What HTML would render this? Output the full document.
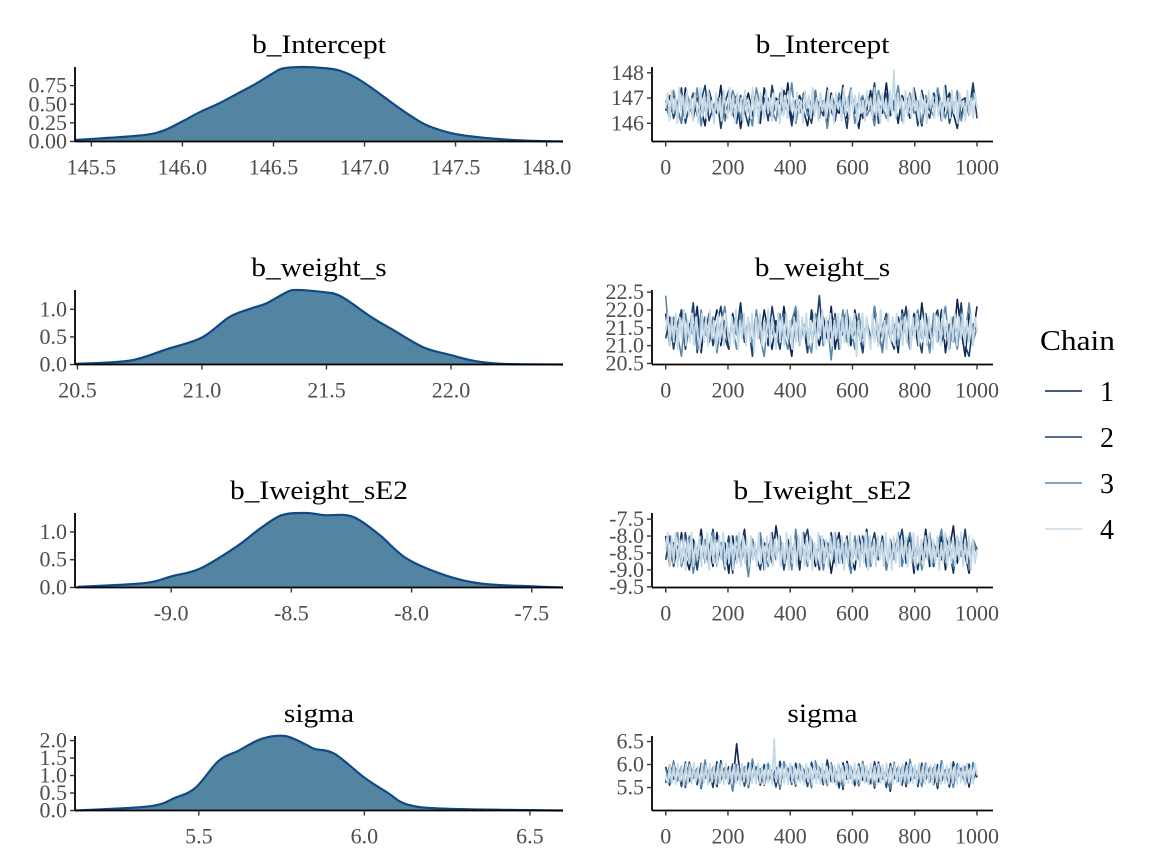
<!DOCTYPE html>
<html><head><meta charset="utf-8"><style>
html,body{margin:0;padding:0;background:#fff;}
svg{display:block;font-family:"Liberation Serif",serif;}
</style></head><body>
<svg id="chart" width="1152" height="864" viewBox="0 0 1152 864" xmlns="http://www.w3.org/2000/svg"></svg>
<script>
// ---- data ----
const paramNames = ["b_Intercept","b_weight_s","b_Iweight_sE2","sigma"];
const dens1X = [145.41,145.6,145.8,145.9,146.0,146.1,146.2,146.3,146.4,146.5,146.55,146.65,146.75,146.85,146.95,147.05,147.15,147.25,147.35,147.5,147.7,147.9,148.09];
const dens1Y = [0.02,0.05,0.09,0.15,0.27,0.40,0.51,0.64,0.77,0.92,0.98,1.0,0.99,0.96,0.86,0.70,0.52,0.35,0.21,0.10,0.04,0.01,0.0];
const dens2X = [20.49,20.71,20.86,21.0,21.11,21.2,21.26,21.34,21.38,21.49,21.56,21.68,21.77,21.89,22.0,22.1,22.22,22.45];
const dens2Y = [0.01,0.07,0.28,0.49,0.86,1.02,1.11,1.31,1.35,1.31,1.23,0.86,0.62,0.31,0.17,0.06,0.01,0.0];
const dens3X = [-9.39,-9.11,-9.0,-8.88,-8.73,-8.63,-8.54,-8.44,-8.36,-8.25,-8.14,-8.02,-7.86,-7.71,-7.5,-7.37];
const dens3Y = [0.01,0.08,0.2,0.34,0.73,1.06,1.30,1.34,1.30,1.28,0.97,0.52,0.22,0.07,0.02,0.0];
const dens4X = [5.126,5.35,5.43,5.49,5.56,5.62,5.69,5.76,5.82,5.85,5.91,6.0,6.07,6.13,6.25,6.6];
const dens4Y = [0.0,0.12,0.37,0.65,1.42,1.71,2.05,2.13,1.9,1.76,1.62,0.94,0.51,0.17,0.05,0.0];

const densXTicks = [[145.5,146.0,146.5,147.0,147.5,148.0],[20.5,21.0,21.5,22.0],[-9.0,-8.5,-8.0,-7.5],[5.5,6.0,6.5]];
const densXLabels = [["145.5","146.0","146.5","147.0","147.5","148.0"],["20.5","21.0","21.5","22.0"],["-9.0","-8.5","-8.0","-7.5"],["5.5","6.0","6.5"]];
const densXRange = [[145.41,148.09],[20.49,22.45],[-9.40,-7.37],[5.126,6.6]];
const densYTicks = [[0,0.25,0.5,0.75],[0,0.5,1.0],[0,0.5,1.0],[0,0.5,1.0,1.5,2.0]];
const densYLabels = [["0.00","0.25","0.50","0.75"],["0.0","0.5","1.0"],["0.0","0.5","1.0"],["0.0","0.5","1.0","1.5","2.0"]];

const traceXTicks = [0,200,400,600,800,1000];
const traceYTicks = [[146,147,148],[20.5,21.0,21.5,22.0,22.5],[-9.5,-9.0,-8.5,-8.0,-7.5],[5.5,6.0,6.5]];
const traceYLabels = [["146","147","148"],["20.5","21.0","21.5","22.0","22.5"],["-9.5","-9.0","-8.5","-8.0","-7.5"],["5.5","6.0","6.5"]];
const traceYRange = [[145.28,148.23],[20.47,22.56],[-9.52,-7.32],[5.0,6.62]];

const int1 = [146.9,146.3,147.2,146.5,146.0,147.4,146.8,146.2,147.0,146.6,145.9,147.3,146.7,146.4,147.5,146.1,146.9,146.5,147.1,145.8,146.7,147.2,146.3,146.9,146.0,147.4,146.6,146.2,147.0,146.8,146.4,147.6,146.1,146.7,147.1,146.5,145.9,146.9,147.3,146.3,146.8,146.0,147.2,146.6,146.4,147.5,146.2,146.9,146.7,145.8,147.0,146.5,147.3,146.1,146.8,146.4,147.6,146.3,146.9,146.0,147.1,146.7,146.2,147.4,146.6,145.9,147.0,146.5,146.8,147.3,146.1,146.7,147.2,146.4,145.8,146.9,147.0,146.3,147.5,146.6];
const int2 = [146.5,147.1,146.2,146.8,147.4,146.0,146.7,147.2,146.3,146.9,147.5,146.1,146.6,147.0,145.8,146.8,147.3,146.4,146.0,147.1,146.5,145.9,147.2,146.7,146.3,147.0,146.1,147.5,146.6,146.2,147.3,146.8,145.9,146.9,146.4,147.2,146.6,146.0,147.1,146.7,146.3,147.4,146.5,146.1,147.0,146.8,145.8,147.3,146.4,146.9,146.2,147.1,146.6,147.6,146.0,146.7,147.2,146.3,146.8,147.4,146.1,146.9,146.5,147.0,145.9,147.3,146.6,146.2,147.2,146.8,146.4,147.5,146.0,146.7,147.1,146.3,146.9,146.5,147.6,146.2];
const int3 = [146.7,146.2,147.3,146.6,146.0,147.1,146.8,146.4,147.4,145.9,146.9,147.2,146.3,146.7,147.0,146.1,146.5,147.3,146.8,146.2,147.1,146.6,145.9,147.4,146.7,146.3,147.0,146.5,146.1,147.2,146.9,146.4,147.6,146.0,146.8,147.1,146.3,146.6,147.3,146.2,146.9,145.8,147.0,146.5,147.2,146.4,146.7,147.4,146.0,146.8,147.1,146.3,146.6,145.9,147.3,146.7,146.2,147.0,146.5,147.5,146.1,146.8,147.2,146.4,146.9,146.0,147.1,146.6,146.3,147.4,146.7,146.2,147.0,146.5,147.3,146.1,146.8,146.4,147.1,146.6];
const int4 = [146.6,147.2,146.1,147.3,146.4,147.0,146.0,147.4,146.5,147.1,146.2,147.3,146.3,147.0,146.1,147.2,146.6,146.0,147.4,146.3,147.1,146.2,147.3,146.5,146.9,146.0,147.2,146.4,147.0,146.1,147.3,146.6,146.2,147.4,146.3,147.1,146.0,147.2,146.5,147.0,146.1,147.3,146.4,146.9,146.2,147.4,146.3,147.1,146.0,147.2,146.6,146.2,147.3,146.4,147.0,146.1,147.2,146.5,146.9,146.0,147.4,146.3,147.1,146.2,147.3,146.5,147.0,146.1,147.2,146.4,146.9,146.0,147.3,146.6,147.1,146.2,147.4,146.3,147.0,146.1,147.2,146.5,146.9,146.2,147.3,146.4,147.1,146.0,147.2,146.6,146.9,146.1,147.4,146.3,147.0,146.2,147.3,146.5,147.1,146.0,147.2,146.4,146.9,146.1,147.3,146.6,147.0,146.2,147.4,146.3,147.1,146.0,147.2,146.5,146.9,146.1,147.3,146.4,148.1,146.2,147.2,146.6,147.0,146.0,147.3,146.3,147.1,146.2,147.4,146.5,146.9,146.1,147.2,146.4,147.0,146.0,147.3,146.6,147.1,146.2,147.2,146.3,146.9,146.1,147.4,146.5,147.0,146.2,147.3,146.4,147.1,146.0,147.2,146.6,146.9,146.1,147.3,146.3,147.0,146.2,147.2,146.6];
const ws1 = [21.9,21.0,21.7,21.2,22.0,20.9,21.6,21.3,22.1,20.8,21.8,21.1,21.5,22.0,21.0,21.7,20.9,21.9,21.3,22.2,21.1,21.6,20.8,21.8,21.2,22.0,21.4,20.9,21.7,21.1,22.1,21.3,20.7,21.9,21.2,21.6,20.9,22.0,21.4,21.0,21.8,21.2,22.1,20.9,21.6,21.3,21.9,21.0,22.0,21.4,20.8,21.7,21.1,22.1,21.3,20.9,21.8,21.2,21.6,20.8,22.0,21.4,21.1,21.9,21.0,22.2,21.3,20.9,21.7,21.2,22.0,20.8,21.6,21.1,22.3,21.4,20.7,21.9,21.3,22.1];
const ws2 = [21.2,21.8,20.9,21.6,22.0,21.1,21.4,22.2,20.8,21.7,21.3,21.9,21.0,21.6,22.1,21.2,20.9,21.8,21.4,22.0,21.1,21.6,20.7,21.9,21.3,21.7,21.0,22.1,21.4,20.9,21.8,21.2,21.6,22.0,21.1,21.5,20.8,21.9,21.3,22.4,21.0,21.7,21.2,21.9,20.9,21.6,22.0,21.1,21.4,21.8,20.8,21.7,21.2,22.0,21.0,21.5,21.9,21.2,20.9,21.8,21.4,22.1,21.0,21.6,21.3,20.8,21.9,21.2,21.7,22.0,21.1,21.5,20.9,21.8,21.3,22.2,21.0,20.7,21.6,21.4];
const ws3 = [22.4,21.0,21.8,21.3,20.7,21.9,21.2,21.6,20.9,22.0,21.4,21.1,21.8,20.8,21.6,22.1,21.2,21.5,20.9,21.9,21.3,21.7,21.0,22.0,21.2,20.7,21.8,21.4,21.1,21.9,21.3,20.9,21.7,22.1,21.0,21.6,21.2,20.8,21.9,21.4,21.1,21.7,20.6,21.8,21.3,22.0,21.1,21.5,20.9,21.9,21.2,21.6,21.0,22.1,21.4,20.8,21.8,21.2,21.6,21.0,21.9,21.3,20.9,21.7,22.0,21.2,21.5,20.8,21.9,21.1,21.6,22.1,21.0,21.4,20.9,21.8,21.3,22.2,21.1,21.5];
const ws4 = [21.4,21.9,21.0,21.8,21.1,21.9,20.9,21.8,21.2,22.0,21.0,21.7,21.1,21.9,21.0,21.8,21.3,20.9,21.9,21.1,21.8,21.0,22.0,21.2,21.7,20.9,21.9,21.1,21.8,21.0,21.9,21.3,21.0,21.8,21.1,22.0,20.9,21.7,21.2,21.9,21.0,21.8,21.1,21.9,20.8,21.8,21.2,21.9,21.0,21.7,21.1,22.0,21.0,21.8,21.3,20.9,21.9,21.1,21.8,21.0,21.9,21.2,21.7,20.9,21.8,21.1,22.0,21.0,21.8,21.2,21.9,21.0,21.7,21.1,21.9,20.9,21.8,21.3,22.0,21.0,21.8,21.1,21.9,21.0,21.7,21.2,21.9,20.9,21.8,21.1,22.0,21.0,21.8,21.2,21.9,20.7,21.7,21.1,21.9,21.0,21.8,21.3,20.9,21.9,21.1,21.8,21.0,22.0,21.2,21.7,20.9,21.9,21.1,21.8,21.0,21.9,21.2,21.7,21.0,21.8,21.1,22.0,20.9,21.8,21.2,21.9,21.0,21.7,21.1,21.9,21.0,21.8,21.3,20.9,21.9,21.1,21.8,21.0,22.0,21.2,21.7,20.9,21.8,21.1,21.9,21.0,21.8,21.2,21.9,21.0,21.7,21.1,21.9,21.0,21.8,21.4];
const iw1 = [-8.0,-8.9,-8.2,-8.7,-7.9,-8.6,-9.0,-8.1,-8.5,-7.8,-8.8,-8.3,-8.9,-7.9,-8.6,-8.2,-9.1,-8.0,-8.7,-8.4,-7.8,-8.9,-8.1,-8.6,-8.0,-9.0,-8.3,-8.8,-7.7,-8.5,-8.9,-8.1,-8.7,-8.2,-9.0,-7.9,-8.6,-8.3,-8.9,-8.0,-8.7,-8.2,-9.1,-8.4,-7.9,-8.8,-8.1,-8.6,-9.0,-8.0,-8.5,-7.8,-8.9,-8.3,-8.7,-8.0,-9.0,-8.2,-8.6,-7.9,-8.8,-8.4,-8.0,-9.1,-8.3,-8.7,-7.8,-8.9,-8.2,-8.6,-8.0,-9.0,-8.4,-7.7,-8.8,-8.1,-8.6,-9.1,-8.2,-8.5];
const iw2 = [-8.7,-8.0,-8.9,-8.3,-8.6,-7.9,-8.8,-8.2,-9.0,-8.1,-8.6,-8.4,-7.8,-8.9,-8.2,-8.7,-8.0,-9.1,-8.3,-8.5,-7.9,-8.8,-8.1,-8.6,-9.0,-8.2,-8.4,-7.9,-8.7,-8.1,-9.0,-8.3,-8.6,-8.0,-8.9,-8.2,-7.8,-8.7,-8.4,-9.0,-8.1,-8.6,-7.9,-8.8,-8.3,-8.5,-8.0,-9.1,-8.2,-8.7,-8.0,-8.9,-8.4,-7.9,-8.6,-8.2,-9.0,-8.1,-8.7,-8.3,-7.8,-8.8,-8.1,-8.5,-9.0,-8.2,-8.6,-7.9,-8.9,-8.3,-8.7,-8.0,-8.4,-9.1,-8.2,-8.6,-7.8,-8.9,-8.1,-8.4];
const iw3 = [-8.1,-8.8,-8.3,-7.9,-8.9,-8.5,-8.0,-9.1,-8.4,-8.7,-8.1,-8.9,-7.9,-8.6,-8.3,-9.0,-8.2,-8.6,-8.0,-8.8,-8.4,-9.2,-8.1,-8.7,-7.9,-8.5,-8.9,-8.2,-8.6,-8.0,-8.8,-8.3,-9.0,-7.8,-8.6,-8.4,-8.9,-8.1,-8.7,-8.0,-9.0,-8.3,-8.5,-7.9,-8.8,-8.2,-8.6,-9.1,-8.0,-8.7,-8.4,-7.9,-8.9,-8.2,-8.6,-8.1,-9.0,-8.4,-8.7,-8.0,-8.9,-8.3,-7.9,-8.6,-8.2,-9.0,-8.5,-8.1,-8.8,-8.3,-7.8,-8.7,-8.2,-8.9,-8.0,-8.6,-8.4,-9.0,-8.1,-8.5];
const iw4 = [-8.4,-7.9,-8.9,-8.0,-8.8,-7.9,-8.9,-8.1,-8.8,-8.0,-9.0,-8.1,-8.8,-7.9,-8.9,-8.2,-8.7,-8.0,-8.9,-8.1,-8.8,-7.9,-9.0,-8.0,-8.8,-8.1,-8.9,-8.0,-8.7,-7.9,-8.9,-8.2,-8.8,-8.0,-9.0,-8.1,-8.8,-7.9,-8.9,-8.0,-8.8,-8.1,-8.9,-8.0,-8.7,-8.2,-8.9,-7.9,-8.8,-8.1,-9.0,-8.0,-8.8,-7.9,-8.9,-8.1,-8.7,-8.0,-8.9,-8.2,-8.8,-7.9,-9.0,-8.0,-8.8,-8.1,-8.9,-8.0,-8.7,-7.9,-8.9,-8.1,-8.8,-8.0,-9.0,-8.2,-8.8,-7.9,-8.9,-8.0,-8.8,-8.1,-8.9,-8.0,-8.7,-7.9,-8.9,-8.1,-8.8,-8.0,-9.0,-8.1,-8.8,-7.9,-8.9,-8.2,-8.7,-8.0,-8.9,-8.1,-8.8,-7.9,-9.0,-8.0,-8.8,-8.1,-8.9,-8.0,-8.7,-8.2,-8.9,-7.9,-8.8,-8.1,-9.0,-8.0,-8.8,-7.9,-8.9,-8.1,-8.7,-8.0,-8.9,-8.2,-8.8,-7.9,-9.0,-8.0,-8.8,-8.1,-8.9,-8.0,-8.7,-7.9,-8.9,-8.1,-8.8,-8.0,-9.0,-8.2,-8.8,-7.9,-8.9,-8.0,-8.8,-8.1,-8.9,-8.0,-8.7,-7.9,-8.9,-8.1,-8.8,-8.0,-9.0,-8.1,-8.8,-8.4];
const sg1 = [5.95,5.55,6.02,5.65,5.88,5.50,6.05,5.70,5.92,5.48,6.00,5.62,5.85,5.52,6.08,5.68,5.95,5.58,6.45,5.66,5.90,5.50,6.03,5.72,5.86,5.55,6.00,5.63,5.94,5.47,6.06,5.70,5.88,5.53,6.01,5.66,5.92,5.50,6.04,5.69,5.86,5.56,6.00,5.62,5.95,5.46,6.07,5.71,5.89,5.54,6.02,5.65,5.93,5.49,6.05,5.68,5.87,5.42,6.01,5.64,5.96,5.52,6.06,5.70,5.88,5.55,6.03,5.62,5.94,5.48,6.08,5.69,5.86,5.53,6.00,5.66,5.95,5.51,6.04,5.72];
const sg2 = [5.60,6.00,5.68,5.94,5.52,6.05,5.63,5.90,5.56,6.02,5.70,5.88,5.50,6.06,5.66,5.93,5.58,6.01,5.64,5.89,5.53,6.04,5.69,5.95,5.55,6.00,5.62,5.87,5.51,6.07,5.67,5.92,5.57,6.03,5.65,5.90,5.52,6.05,5.70,5.94,5.56,6.10,5.63,5.88,5.49,6.04,5.68,5.96,5.54,6.01,5.66,5.91,5.58,6.06,5.62,5.89,5.50,6.02,5.69,5.95,5.55,6.05,5.64,5.90,5.52,6.03,5.67,5.93,5.56,6.00,5.63,5.88,5.51,6.06,5.70,5.92,5.57,6.01,5.65,5.85];
const sg3 = [5.90,5.60,6.08,5.66,5.97,5.53,6.02,5.71,5.89,5.50,6.10,5.63,5.94,5.56,6.04,5.68,5.87,5.42,6.00,5.65,5.95,5.52,6.12,5.70,5.91,5.57,6.03,5.62,5.88,5.49,6.06,5.67,5.96,5.55,6.01,5.64,5.92,5.50,6.08,5.69,5.86,5.54,6.04,5.66,5.97,5.51,6.02,5.70,5.90,5.56,6.07,5.63,5.94,5.53,6.00,5.68,5.89,5.48,6.05,5.65,5.96,5.57,6.11,5.72,5.88,5.52,6.03,5.64,5.93,5.55,6.08,5.67,5.90,5.50,6.02,5.69,5.96,5.58,6.04,5.75];
const sg4 = [5.78,5.58,6.00,5.60,5.98,5.57,6.02,5.62,5.97,5.56,6.01,5.59,5.99,5.58,6.03,5.61,5.96,5.57,6.00,5.60,5.98,5.56,6.02,5.62,5.97,5.58,6.01,5.59,5.99,5.57,6.03,5.61,5.96,5.58,6.00,5.60,5.98,5.56,6.02,5.62,5.97,5.57,6.01,5.59,5.99,5.58,6.03,5.60,5.96,5.57,6.00,5.61,5.98,5.56,6.55,5.62,5.97,5.58,6.01,5.59,5.99,5.57,6.03,5.61,5.96,5.58,6.00,5.60,5.98,5.56,6.02,5.62,5.97,5.57,6.01,5.59,5.99,5.58,6.03,5.60,5.96,5.57,6.00,5.61,5.98,5.56,6.02,5.62,5.97,5.58,6.01,5.59,5.99,5.57,6.03,5.61,5.96,5.58,6.00,5.60,5.98,5.56,6.02,5.62,5.97,5.57,6.01,5.59,5.99,5.58,6.03,5.60,5.96,5.57,6.00,5.61,5.98,5.56,6.02,5.62,5.97,5.58,6.01,5.59,5.99,5.57,6.03,5.61,5.96,5.58,6.00,5.60,5.98,5.56,6.02,5.62,5.97,5.57,6.01,5.59,5.99,5.58,6.03,5.60,5.96,5.57,6.00,5.61,5.98,5.56,6.02,5.62,5.97,5.58,6.01,5.78];

const traceChains = [[int1,int2,int3,int4],[ws1,ws2,ws3,ws4],[iw1,iw2,iw3,iw4],[sg1,sg2,sg3,sg4]];
const densXs = [dens1X,dens2X,dens3X,dens4X];
const densYs = [dens1Y,dens2Y,dens3Y,dens4Y];
const chainLabels = ["1","2","3","4"];

// ---- layout ----
const NS = "http://www.w3.org/2000/svg";
const svg = document.getElementById("chart");
const chainColors = ["#0b2650","#1b3f6b","#5b87a6","#c6d9e7"];
const chainWidths = [1.6,1.6,1.6,1.8];
const rowTop = [67,290,513,736];
const panelH = 74.5;
const L = {x0:75, x1:563};
const R = {x0:652, x1:993, d0:665.7, d1:977};
const TICK_FS = 22, TITLE_FS = 26;

function mk(tag, attrs, parent){
  const e = document.createElementNS(NS, tag);
  for (const k in attrs) e.setAttribute(k, attrs[k]);
  (parent||svg).appendChild(e);
  return e;
}
function txt(s, attrs, parent){ const t = mk("text", attrs, parent); t.textContent = s; return t; }
function stretch(t, f){
  const len = t.getComputedTextLength();
  if (len > 0){ t.setAttribute("textLength", (len*f).toFixed(1)); t.setAttribute("lengthAdjust","spacingAndGlyphs"); }
}

function smoothPath(pts){
  let d = "M" + pts[0][0].toFixed(2) + "," + pts[0][1].toFixed(2);
  for (let i=0;i<pts.length-1;i++){
    const p0 = pts[i-1]||pts[i], p1 = pts[i], p2 = pts[i+1], p3 = pts[i+2]||p2;
    const c1 = [p1[0]+(p2[0]-p0[0])/6, p1[1]+(p2[1]-p0[1])/6];
    const c2 = [p2[0]-(p3[0]-p1[0])/6, p2[1]-(p3[1]-p1[1])/6];
    d += " C"+c1[0].toFixed(2)+","+c1[1].toFixed(2)+" "+c2[0].toFixed(2)+","+c2[1].toFixed(2)+" "+p2[0].toFixed(2)+","+p2[1].toFixed(2);
  }
  return d;
}

for (let p=0;p<4;p++){
  const top = rowTop[p], bot = top + panelH;
  // ---- density panel ----
  const g = mk("g", {});
  
  
  const xr = densXRange[p];
  const xs = v => L.x0 + (v - xr[0]) / (xr[1] - xr[0]) * (L.x1 - L.x0);
  const ymax = Math.max(...densYs[p]);
  const ys = v => bot - v / ymax * (bot - top);
  const t1 = txt(paramNames[p], {x:(L.x0+L.x1)/2, y:top-14, "text-anchor":"middle", "font-size":TITLE_FS, fill:"#000"}, g);
  
  
  stretch(t1, 1.13);
  const pts = densXs[p].map((x,i)=>[xs(x), ys(densYs[p][i])]);
  let d = smoothPath(pts);
  const fill = mk("path", {d: d + " L"+pts[pts.length-1][0]+","+bot+" L"+pts[0][0]+","+bot+" Z", fill:"#5384a1", stroke:"none"}, g);
  
  
  const line = mk("path", {d: d, fill:"none", stroke:"#0f4a87", "stroke-width":"2.2"}, g);
  
  
  mk("line", {x1:L.x0, y1:top, x2:L.x0, y2:bot, stroke:"#000", "stroke-width":"1.8"}, g);
  mk("line", {x1:L.x0, y1:bot, x2:L.x1, y2:bot, stroke:"#000", "stroke-width":"1.8"}, g);
  densXTicks[p].forEach((v,i)=>{
    const x = xs(v);
    mk("line", {x1:x, y1:bot, x2:x, y2:bot+5, stroke:"#333", "stroke-width":"1.4"}, g);
    const t = txt(densXLabels[p][i], {x:x, y:bot+33, "text-anchor":"middle", "font-size":TICK_FS, fill:"#4d4d4d"}, g);
    
    
  });
  densYTicks[p].forEach((v,i)=>{
    const y = ys(v);
    mk("line", {x1:L.x0-5, y1:y, x2:L.x0, y2:y, stroke:"#333", "stroke-width":"1.4"}, g);
    const t = txt(densYLabels[p][i], {x:L.x0-8, y:y+7, "text-anchor":"end", "font-size":TICK_FS, fill:"#4d4d4d"}, g);
    
    
  });

  // ---- trace panel ----
  const h = mk("g", {});
  
  
  const yr = traceYRange[p];
  const tys = v => bot - (v - yr[0]) / (yr[1] - yr[0]) * (bot - top);
  const txs = it => R.d0 + it / 1000 * (R.d1 - R.d0);
  const t2 = txt(paramNames[p], {x:(R.x0+R.x1)/2, y:top-14, "text-anchor":"middle", "font-size":TITLE_FS, fill:"#000"}, h);
  
  
  stretch(t2, 1.13);
  traceChains[p].forEach((arr,c)=>{
    const n = arr.length;
    const pp = arr.map((v,i)=> txs(i/(n-1)*1000).toFixed(2)+","+tys(v).toFixed(2)).join(" ");
    const pl = mk("polyline", {points:pp, fill:"none", stroke:chainColors[c], "stroke-width":chainWidths[c], "stroke-linejoin":"round"}, h);
    
    
  });
  mk("line", {x1:R.x0, y1:top, x2:R.x0, y2:bot, stroke:"#000", "stroke-width":"1.8"}, h);
  mk("line", {x1:R.x0, y1:bot, x2:R.x1, y2:bot, stroke:"#000", "stroke-width":"1.8"}, h);
  traceXTicks.forEach(v=>{
    const x = txs(v);
    mk("line", {x1:x, y1:bot, x2:x, y2:bot+5, stroke:"#333", "stroke-width":"1.4"}, h);
    const t = txt(String(v), {x:x, y:bot+33, "text-anchor":"middle", "font-size":TICK_FS, fill:"#4d4d4d"}, h);
    
    
  });
  traceYTicks[p].forEach((v,i)=>{
    const y = tys(v);
    mk("line", {x1:R.x0-5, y1:y, x2:R.x0, y2:y, stroke:"#333", "stroke-width":"1.4"}, h);
    const t = txt(traceYLabels[p][i], {x:R.x0-8, y:y+7, "text-anchor":"end", "font-size":TICK_FS, fill:"#4d4d4d"}, h);
    
    
  });
}

// ---- legend ----
const lg = mk("g", {});


const lt = txt("Chain", {x:1040, y:350, "font-size":"28", fill:"#000"}, lg);


stretch(lt, 1.12);
const legY = [391,437,483,529];
chainLabels.forEach((s,i)=>{
  const e = mk("g", {}, lg);
  
  
  mk("line", {x1:1045, y1:legY[i], x2:1082, y2:legY[i], stroke:chainColors[i], "stroke-width":"1.6"}, e);
  txt(s, {x:1100, y:legY[i]+10, "font-size":"28", fill:"#000"}, e);
});
</script>
</body></html>
